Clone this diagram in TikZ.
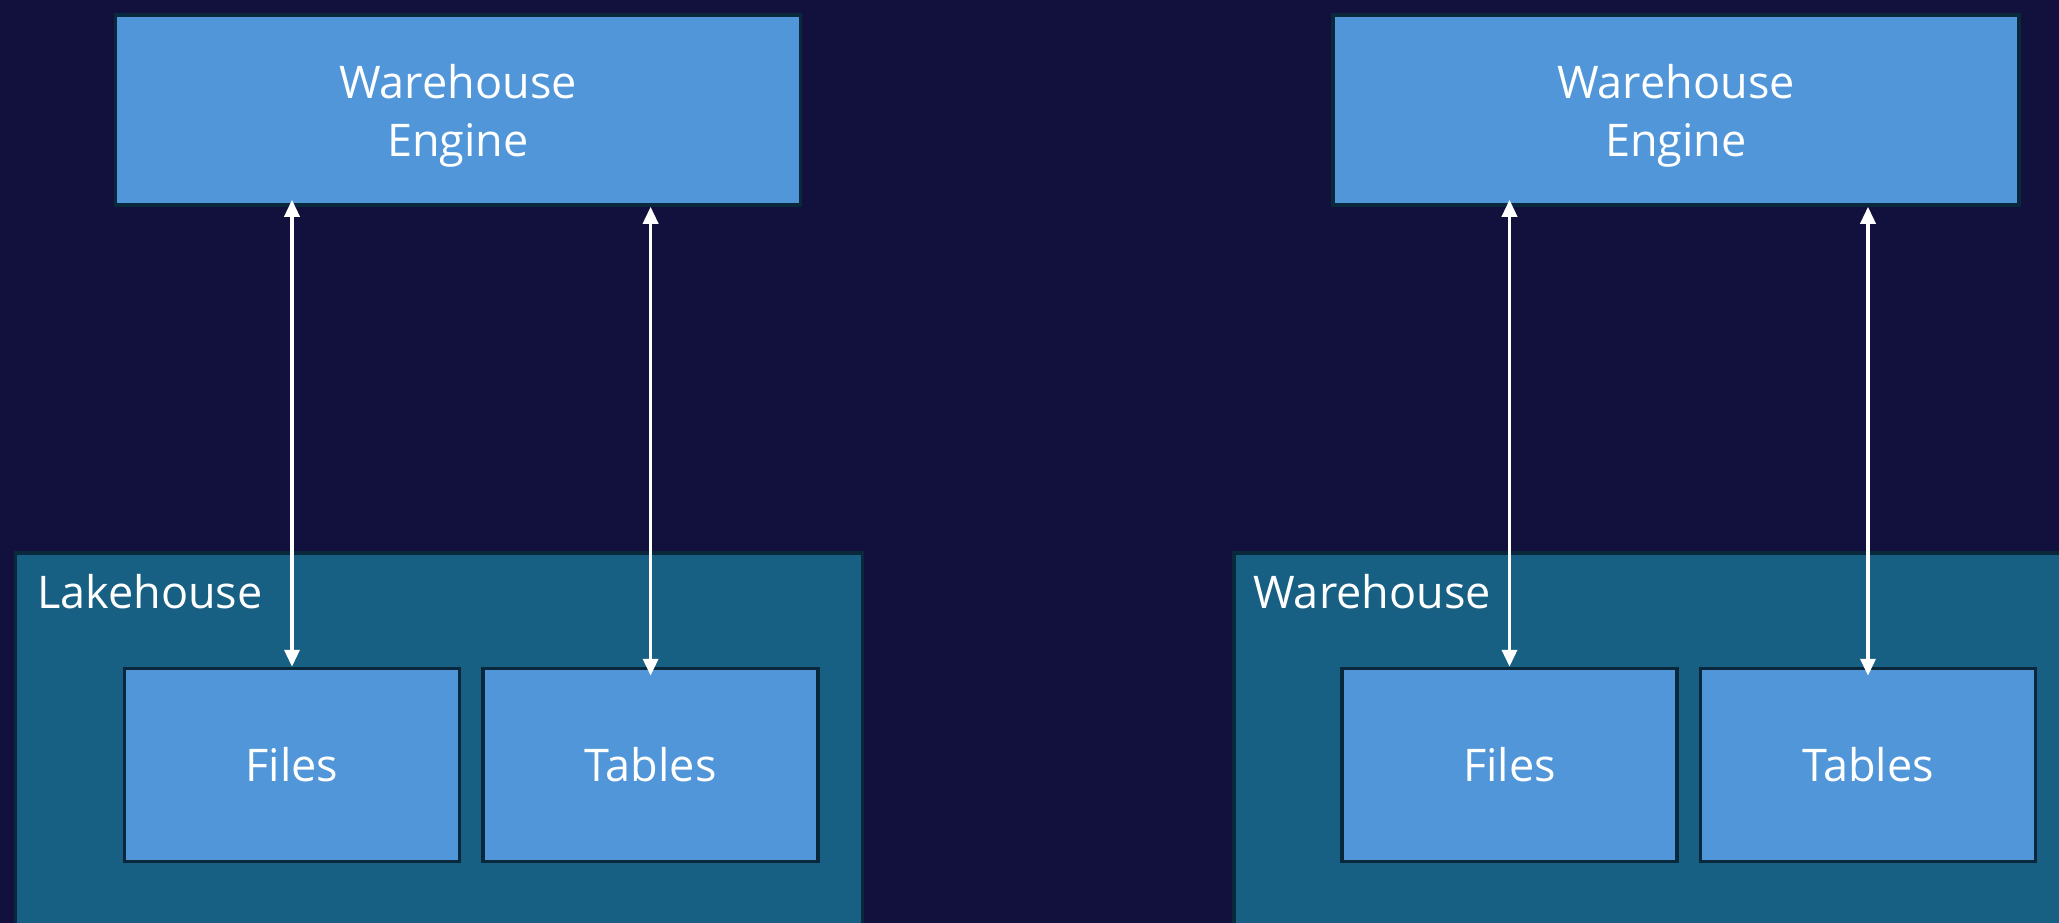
\documentclass[tikz,border=0pt]{standalone}
\usepackage{fontspec}
\setmainfont{Open Sans}
\usetikzlibrary{arrows.meta}
\definecolor{bgnavy}{RGB}{18,16,60}
\definecolor{boxblue}{RGB}{80,150,217}
\definecolor{contteal}{RGB}{23,96,131}
\definecolor{edgedark}{RGB}{10,40,60}
\tikzset{
  bluebox/.style={draw=edgedark, line width=3.5pt, fill=boxblue, rectangle, inner sep=0pt,
    text=white, font=\fontsize{45}{58}\selectfont, align=center},
  container/.style={draw=edgedark, line width=3.5pt, fill=contteal, rectangle, inner sep=0pt},
  contlabel/.style={text=white, font=\fontsize{45}{55}\selectfont, inner sep=0pt, anchor=base west},
  biarrow/.style={draw=white, line width=3.5pt, {Triangle[width=15pt,length=17pt]}-{Triangle[width=15pt,length=17pt]}}
}
\begin{document}
\begin{tikzpicture}[x=1pt,y=-1pt]
\fill[bgnavy] (0,0) rectangle (2059,923);
\useasboundingbox (0,0) rectangle (2059,923);
% containers
\node[container, minimum width=847pt, minimum height=390pt] (lake) at (439,748) {};
\node[container, minimum width=846pt, minimum height=390pt] (wh) at (1657,748) {};
\node[contlabel] (lakelbl) at (37,608) {Lakehouse};
\node[contlabel] (whlbl) at (1253,608) {Warehouse};
% engines
\node[bluebox, minimum width=685pt, minimum height=190pt] (eng1) at (458,110) {\rule{0pt}{46pt}Warehouse\\Engine};
\node[bluebox, minimum width=686pt, minimum height=190pt] (eng2) at (1676,110) {\rule{0pt}{46pt}Warehouse\\Engine};
% inner boxes
\node[bluebox, minimum width=335pt, minimum height=193pt] (files1) at (292,765) {Files};
\node[bluebox, minimum width=335pt, minimum height=193pt] (tables1) at (650.6,765) {Tables};
\node[bluebox, minimum width=335pt, minimum height=193pt] (files2) at (1509.5,765) {Files};
\node[bluebox, minimum width=335pt, minimum height=193pt] (tables2) at (1868,765) {Tables};
% arrows
\draw[biarrow, shorten >=-7pt] (files1.north) -- (eng1.south -| files1.north);
\draw[biarrow, shorten <=-9pt] (tables1.north) -- (eng1.south -| tables1.north);
\draw[biarrow, shorten >=-7pt] (files2.north) -- (eng2.south -| files2.north);
\draw[biarrow, shorten <=-9pt] (tables2.north) -- (eng2.south -| tables2.north);
\end{tikzpicture}
\end{document}
